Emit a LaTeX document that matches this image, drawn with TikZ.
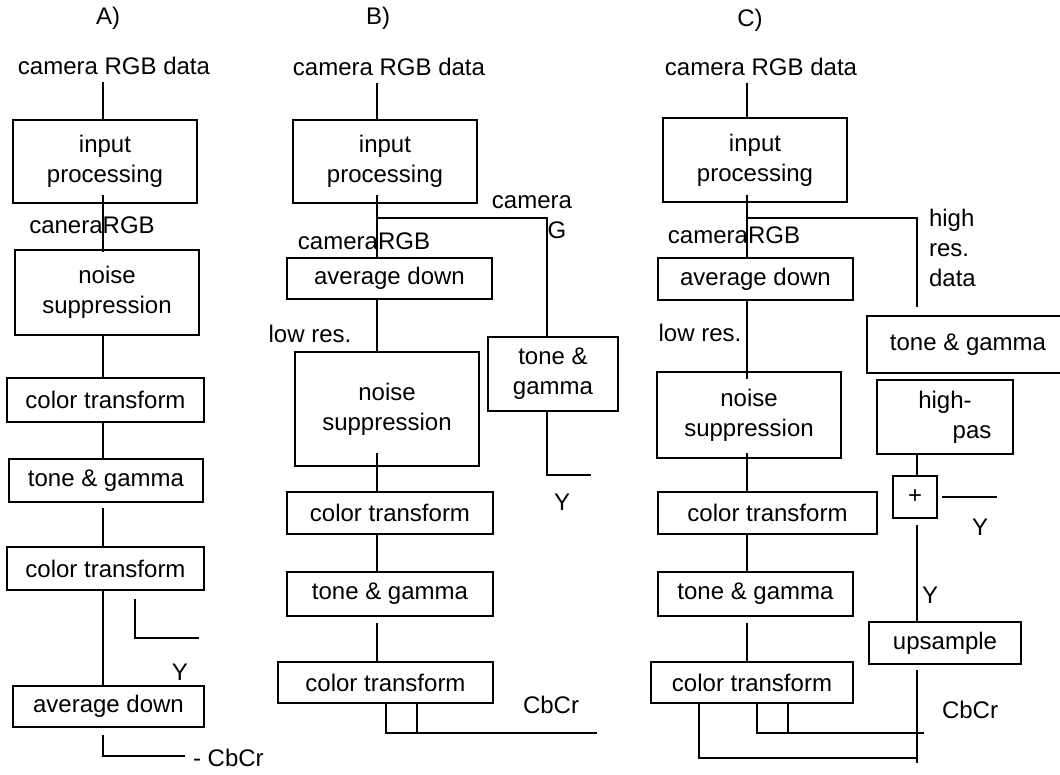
\documentclass[tikz,border=0pt]{standalone}
\usepackage{fontspec}
\setmainfont{Liberation Sans}
\usetikzlibrary{calc}

\begin{document}
\begin{tikzpicture}[x=0.5pt, y=-0.5pt, font=\fontsize{12}{15}\selectfont,
  blk/.style={draw, line width=1pt, inner sep=0pt, align=center},
  wire/.style={line width=1pt}]
  \clip (0,0) rectangle (1060,775);

  % A) straight pipeline
  \coordinate (colA) at (103,0);
  \node at (108,18) {A)};
  \node (inA) at (114,66) {camera RGB data};
  \node[blk, minimum width=92pt, minimum height=41.5pt] (procA) at (105,161.5) {input\\processing};
  \node at (92,225) {caneraRGB};
  \node[blk, minimum width=92pt, minimum height=42.5pt] (noiseA) at (107,292.5) {noise\\suppression};
  \node[blk, minimum width=98.5pt, minimum height=22pt] (ctA1) at (105.5,400) {color transform};
  \node[blk, minimum width=97pt, minimum height=21.5pt] (toneA) at (106,480.5) {tone \& gamma};
  \node[blk, minimum width=98.5pt, minimum height=21.5pt] (ctA2) at (105.5,568.5) {color transform};
  \node[blk, minimum width=95.5pt, minimum height=20.5pt] (avgA) at (108.5,706.5) {average down};
  \node at (180,672) {Y};
  \node[anchor=west] at (186,758) {- CbCr};
  \coordinate (yA) at (199,638);
  \coordinate (cbA) at (185,756);

  \draw[wire] (inA.south -| colA) -- (procA.north -| colA);
  \draw[wire, shorten <=-4.5pt, shorten >=-1.5pt] (procA.south -| colA) -- (noiseA.north -| colA);
  \draw[wire] (noiseA.south -| colA) -- (ctA1.north -| colA);
  \draw[wire] (ctA1.south -| colA) -- (toneA.north -| colA);
  \draw[wire, shorten <=2.5pt] (toneA.south -| colA) -- (ctA2.north -| colA);
  \draw[wire] (ctA2.south -| colA) -- (avgA.north -| colA);
  \draw[wire] ($(ctA2.south)+(29.5,8)$) |- (yA);
  \draw[wire, shorten <=3.5pt] (avgA.south -| colA) |- (cbA);

  % B) camera G branch
  \coordinate (colB) at (377,0);
  \node at (378,18) {B)};
  \node (inB) at (389,67) {camera RGB data};
  \node[blk, minimum width=92pt, minimum height=41.5pt] (procB) at (385,161.5) {input\\processing};
  \node at (364,241) {cameraRGB};
  \node at (532,202) {camera};
  \node at (557,230) {G};
  \node[blk, minimum width=102.5pt, minimum height=20.5pt] (avgB) at (389.5,278.5) {average down};
  \node at (310,334) {low res.};
  \node[blk, minimum width=65pt, minimum height=37pt] (toneBr) at (553,374) {tone \&\\gamma};
  \node[blk, minimum width=92pt, minimum height=57pt] (noiseB) at (387,409) {noise\\suppression};
  \node[blk, minimum width=103pt, minimum height=21pt] (ctB1) at (390,513) {color transform};
  \node[blk, minimum width=103pt, minimum height=22pt] (toneB) at (390,594) {tone \& gamma};
  \node[blk, minimum width=107.5pt, minimum height=20.5pt] (ctB2) at (385.5,682.5) {color transform};
  \node at (562,502) {Y};
  \node at (551,705) {CbCr};
  \coordinate (splitB) at (377,218);
  \coordinate (yB) at (591,475);
  \coordinate (cbB) at (597,733);
  \coordinate (cbB2) at (417,733);

  \draw[wire] (inB.south -| colB) -- (procB.north -| colB);
  \draw[wire, shorten <=-4.5pt] (procB.south -| colB) -- (avgB.north -| colB);
  \draw[wire] (splitB) -| ([xshift=-3pt]toneBr.north);
  \draw[wire] ([xshift=-3pt]toneBr.south) |- (yB);
  \draw[wire] (avgB.south -| colB) -- (noiseB.north -| colB);
  \draw[wire, shorten <=-7pt] (noiseB.south -| colB) -- (ctB1.north -| colB);
  \draw[wire] (ctB1.south -| colB) -- (toneB.north -| colB);
  \draw[wire, shorten <=3pt] (toneB.south -| colB) -- (ctB2.north -| colB);
  \draw[wire] (ctB2.south) |- (cbB);
  \draw[wire] (ctB2.south -| cbB2) -- (cbB2);

  % C) high res. branch with high-pass
  \coordinate (colC) at (747,0);
  \coordinate (colCr) at (917,0);
  \node at (750,20) {C)};
  \node (inC) at (761,67) {camera RGB data};
  \node[blk, minimum width=92pt, minimum height=42pt] (procC) at (755,160) {input\\processing};
  \node at (734,235) {cameraRGB};
  \node[anchor=west, align=left] at (922,248) {high\\res.\\data};
  \node[blk, minimum width=97.5pt, minimum height=21pt] (avgC) at (755.5,279) {average down};
  \node at (700,333) {low res.};
  \node[blk, minimum width=101pt, minimum height=28.5pt] (toneCr) at (968,344.5) {tone \& gamma};
  \node[blk, minimum width=92pt, minimum height=43pt] (noiseC) at (749,415) {noise\\suppression};
  \node[blk, minimum width=68pt, minimum height=37pt] (hpC) at (945,417) {high-\\\hspace*{27pt}pas};
  \node[blk, minimum width=22pt, minimum height=21pt] (plusC) at (915,497) {+};
  \node[blk, minimum width=109.5pt, minimum height=21pt] (ctC1) at (767.5,513) {color transform};
  \node[blk, minimum width=97.5pt, minimum height=22pt] (toneC) at (755.5,594) {tone \& gamma};
  \node[blk, minimum width=76pt, minimum height=21pt] (upC) at (945,643) {upsample};
  \node[blk, minimum width=101pt, minimum height=20.5pt] (ctC2) at (752,682.5) {color transform};
  \node at (980,527) {Y};
  \node at (930,595) {Y};
  \node at (970,710) {CbCr};
  \coordinate (splitC) at (747,218);
  \coordinate (yC) at (997,497);
  \coordinate (endC) at (917,763);
  \coordinate (cbCa) at (699,758);
  \coordinate (cbCend2) at (917,758);
  \coordinate (cbCb) at (757,733);
  \coordinate (cbCc) at (788,733);
  \coordinate (cbCend1) at (924,733);

  \draw[wire] (inC.south -| colC) -- (procC.north -| colC);
  \draw[wire, shorten <=-4pt] (procC.south -| colC) -- (avgC.north -| colC);
  \draw[wire] (splitC) -| ([yshift=4pt]toneCr.north -| colCr);
  \draw[wire, shorten >=-4pt] (avgC.south -| colC) -- (noiseC.north -| colC);
  \draw[wire, shorten <=-3pt] (noiseC.south -| colC) -- (ctC1.north -| colC);
  \draw[wire] (ctC1.south -| colC) -- (toneC.north -| colC);
  \draw[wire, shorten <=3pt] (toneC.south -| colC) -- (ctC2.north -| colC);
  \draw[wire, shorten <=-1pt] (hpC.south -| colCr) -- (plusC.north -| colCr);
  \draw[wire, shorten <=2pt] (plusC.east) -- (yC);
  \draw[wire, shorten <=3pt] (plusC.south -| colCr) -- (upC.north -| colCr);
  \draw[wire, shorten <=2.5pt] (upC.south -| colCr) -- (endC);
  \draw[wire] (ctC2.south -| cbCa) |- (cbCend2);
  \draw[wire] (ctC2.south -| cbCb) |- (cbCend1);
  \draw[wire] (ctC2.south -| cbCc) -- (cbCc);
\end{tikzpicture}
\end{document}
